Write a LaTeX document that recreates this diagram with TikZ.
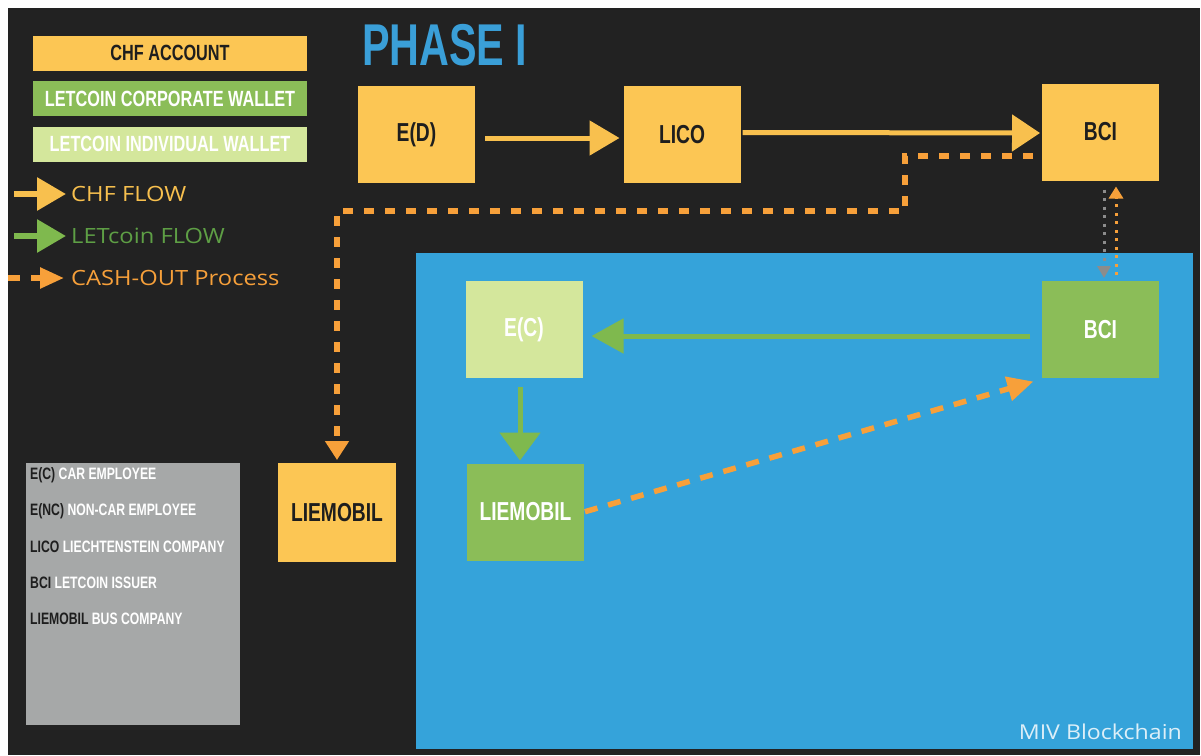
\documentclass[tikz,border=0pt]{standalone}
\usepackage{fontspec}
\setmainfont{Liberation Sans}
\newfontfamily\condf[FakeStretch=0.74]{Liberation Sans}
\newfontfamily\phasef[FakeStretch=0.7]{Liberation Sans}
\newfontfamily\humf[FakeStretch=1.13]{Open Sans}
\usetikzlibrary{arrows.meta}
\definecolor{bg}{HTML}{222222}
\definecolor{chfyel}{HTML}{FCC654}
\definecolor{arryel}{HTML}{F8C04E}
\definecolor{corpgreen}{HTML}{8BBD58}
\definecolor{indgreen}{HTML}{D4E79C}
\definecolor{arrgreen}{HTML}{7FB94E}
\definecolor{txtgreen}{HTML}{5E9F45}
\definecolor{cashorange}{HTML}{F7A03A}
\definecolor{chainblue}{HTML}{35A3DA}
\definecolor{phaseblue}{HTML}{3A9FD8}
\definecolor{keygray}{HTML}{A6A8A8}
\definecolor{dotgray}{HTML}{8C8C8C}
\definecolor{darktxt}{HTML}{1E1E1E}
\definecolor{mivtxt}{HTML}{DDEFF8}
\tikzset{
  entity/.style={minimum width=117pt, minimum height=97pt, inner sep=0pt, outer sep=0pt,
    font=\condf\bfseries\fontsize{26}{30}\selectfont},
  yelbox/.style={entity, fill=chfyel, text=darktxt},
  corpbox/.style={entity, fill=corpgreen, text=white},
  indbox/.style={entity, fill=indgreen, text=white},
  legbox/.style={minimum width=274pt, minimum height=35pt, inner sep=0pt, outer sep=0pt,
    font=\condf\bfseries\fontsize{22}{26}\selectfont},
  keytxt/.style={anchor=west, inner sep=0pt, font=\condf\bfseries\fontsize{16.5}{19}\selectfont},
  flowtxt/.style={anchor=west, inner sep=0pt, font=\humf\fontsize{21}{24}\selectfont},
  cashline/.style={draw=cashorange, line width=5.5pt, dash pattern=on 10pt off 11pt},
  cashtip/.style={-{Triangle[width=23pt,length=19pt]}},
  dotline/.style={line width=3pt, dash pattern=on 3pt off 5.5pt},
}
\begin{document}
\begin{tikzpicture}[x=1pt,y=-1pt]
\useasboundingbox (0,0) rectangle (1201,755);
\fill[white] (0,0) rectangle (1201,755);
\fill[bg] (8,8) rectangle (1200,755);

% blockchain area
\fill[chainblue] (416,253) rectangle (1193,749);
\node[anchor=east, inner sep=0pt, text=mivtxt, font=\humf\fontsize{20.5}{24}\selectfont] (miv) at (1182,732) {MIV Blockchain};

% title
\node[anchor=west, inner sep=0pt, text=phaseblue, font=\phasef\bfseries\fontsize{59}{62}\selectfont] (phase) at (362,45) {PHASE I};

% legend boxes
\node[legbox, fill=chfyel, text=darktxt] (lchf) at (170,53) {CHF ACCOUNT};
\node[legbox, fill=corpgreen, text=white] (lcorp) at (170,98.5) {LETCOIN CORPORATE WALLET};
\node[legbox, fill=indgreen, text=white] (lind) at (170,144) {LETCOIN INDIVIDUAL WALLET};

% legend arrows
\coordinate (a1s) at (14,194); \coordinate (a1e) at (66,194);
\draw[draw=arryel, line width=6pt, -{Triangle[width=32pt,length=29pt]}] (a1s) -- (a1e);
\node[flowtxt, text=arryel] (t1) at (71,194) {CHF FLOW};
\coordinate (a2s) at (14,236); \coordinate (a2e) at (66,236);
\draw[draw=arrgreen, line width=6pt, -{Triangle[width=32pt,length=29pt]}] (a2s) -- (a2e);
\node[flowtxt, text=txtgreen] (t2) at (71,236) {LETcoin FLOW};
\coordinate (a3s) at (8,278); \coordinate (a3e) at (64,278);
\draw[cashline, dash pattern=on 12pt off 11pt, -{Triangle[width=20pt,length=24pt]}] (a3s) -- (a3e);
\node[flowtxt, text=cashorange] (t3) at (71,278) {CASH-OUT Process};

% key box
\fill[keygray] (26,463) rectangle (240,725);
\node[keytxt] (k1) at (30,475) {\textcolor{darktxt}{E(C)} \textcolor{white}{CAR EMPLOYEE}};
\node[keytxt] (k2) at (30,511) {\textcolor{darktxt}{E(NC)} \textcolor{white}{NON-CAR EMPLOYEE}};
\node[keytxt] (k3) at (30,547) {\textcolor{darktxt}{LICO} \textcolor{white}{LIECHTENSTEIN COMPANY}};
\node[keytxt] (k4) at (30,583) {\textcolor{darktxt}{BCI} \textcolor{white}{LETCOIN ISSUER}};
\node[keytxt] (k5) at (30,619) {\textcolor{darktxt}{LIEMOBIL} \textcolor{white}{BUS COMPANY}};

% entities
\node[yelbox] (ED) at (416.5,134.5) {E(D)};
\node[yelbox] (LICO) at (682,134.5) {LICO};
\node[yelbox] (BCIt) at (1100.5,132) {BCI};
\node[yelbox, minimum width=118pt, minimum height=99pt] (LIEY) at (337,512.5) {LIEMOBIL};
\node[corpbox] (BCIg) at (1100.5,329.5) {BCI};
\node[indbox] (EC) at (524,329.5) {E(C)};
\node[corpbox] (LIEG) at (525.5,512) {LIEMOBIL};

% CHF flows
\draw[draw=arryel, line width=5pt, -{Triangle[width=34pt,length=30pt]}, shorten <=10pt, shorten >=4pt]
  ([yshift=-3.5pt]ED.east) -- ([yshift=-3.5pt]LICO.west);
\draw[draw=arryel, line width=5pt, -{Triangle[width=36pt,length=28pt]}, shorten <=2pt, shorten >=2pt]
  ([yshift=2pt]LICO.east) -- ([yshift=-1pt]BCIt.west);

% cash-out from BCI to LIEMOBIL
\coordinate (turn) at (905,211);
\draw[cashline, cashtip] ([yshift=-24pt,xshift=-9pt]BCIt.west) -| (turn) -| ([yshift=3pt]LIEY.north);

% dotted links between BCIs
\draw[dotline, draw=dotgray, -{Triangle[width=13pt,length=12pt]}, shorten <=9pt, shorten >=3pt]
  ([xshift=3.5pt]BCIt.south) -- ([xshift=3.5pt]BCIg.north);
\draw[dotline, draw=cashorange, -{Triangle[width=14pt,length=12pt]}, shorten <=6pt, shorten >=6pt]
  ([xshift=15.5pt]BCIg.north) -- ([xshift=15.5pt]BCIt.south);

% LETcoin flows
\draw[draw=arrgreen, line width=5pt, -{Triangle[width=34pt,length=32pt]}, shorten <=12pt, shorten >=9pt]
  ([yshift=-6.5pt]BCIg.west) -- ([yshift=-6.5pt]EC.east);
\draw[draw=arrgreen, line width=5pt, -{Triangle[width=40pt,length=28pt]}, shorten <=9pt, shorten >=3pt]
  ([xshift=-4pt]EC.south) -- ([xshift=-4pt]EC.south |- LIEG.north);

% cash-out from LIEMOBIL to BCI
\draw[cashline, dash pattern=on 13pt off 11pt, -{Triangle[width=24pt,length=26pt]}, shorten <=1pt, shorten >=9pt]
  (LIEG.east) -- ([yshift=-1pt]BCIg.south west);
\end{tikzpicture}
\end{document}
